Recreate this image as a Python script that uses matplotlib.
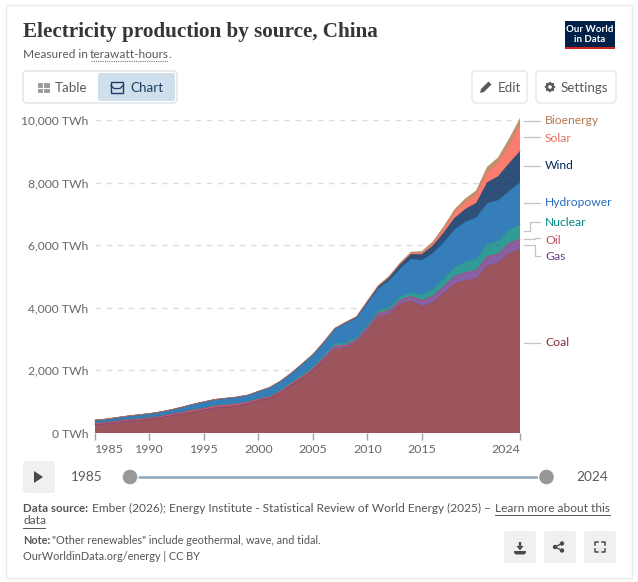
import matplotlib
matplotlib.use("Agg")
import matplotlib.pyplot as plt
import math
from matplotlib.patches import FancyBboxPatch, Rectangle, Circle, Polygon

years = list(range(1985, 2025))
coal = [265,295,335,375,405,440,490,550,610,670,730,800,830,865,925,1040,1110,1290,1530,1750,2000,2340,2690,2720,2900,3270,3720,3790,4110,4220,4050,4170,4460,4770,4870,4930,5340,5430,5740,5860]
gas = [4,4,4,4,4,4,4,4,4,4,4,5,5,5,5,6,6,6,6,6,12,25,65,65,70,80,100,110,120,130,170,190,200,220,240,250,280,270,300,320]
oil = [50,50,55,55,55,50,55,60,60,65,60,65,65,60,60,45,40,40,45,45,45,45,30,25,20,15,15,15,12,12,12,12,12,12,12,12,15,15,18,20]
nuclear = [0,0,0,0,0,0,0,0,2,14,13,14,14,14,15,17,17,25,43,50,53,55,62,68,70,74,86,97,112,133,171,213,248,295,349,366,408,418,435,451]
hydro = [92,95,100,109,118,127,125,131,151,167,190,188,196,204,203,222,277,288,284,354,397,436,485,637,616,711,688,862,892,1060,1115,1153,1165,1199,1272,1322,1300,1300,1228,1354]
wind = [0,0,0,0,0,0,0,0,0,0,0,0,0,0,0,1,1,1,1,1,2,4,6,15,28,49,74,96,141,156,186,237,305,366,406,467,656,763,886,992]
solar = [0,0,0,0,0,0,0,0,0,0,0,0,0,0,0,0,0,0,0,0,0,0,0,0,0,1,3,6,9,24,40,67,118,177,224,261,327,427,584,834]
bio = [0,0,0,0,0,0,0,0,0,0,1,1,1,1,1,2,2,2,3,4,5,6,8,12,18,25,30,34,38,45,53,65,80,94,113,135,170,170,196,208]
series = [coal, gas, oil, nuclear, hydro, wind, solar, bio]
colors = ["#883039", "#6d3e91", "#c9304f", "#058580", "#0a62ab", "#00295b", "#f9604f", "#b07a4c"]
labels = ["Coal", "Gas", "Oil", "Nuclear", "Hydropower", "Wind", "Solar", "Bioenergy"]
label_colors = ["#883039", "#6d3e91", "#c15065", "#00847e", "#286bbb", "#00295b", "#e56e5a", "#b5764c"]
yticks = [0, 2000, 4000, 6000, 8000, 10000]
ytick_labels = ["0 TWh", "2,000 TWh", "4,000 TWh", "6,000 TWh", "8,000 TWh", "10,000 TWh"]
xticks = [1985, 1990, 1995, 2000, 2005, 2010, 2015, 2024]

W, H = 638, 582
plt.rcParams["font.family"] = ["Lato", "DejaVu Sans"]
fig = plt.figure(figsize=(W/100, H/100), dpi=100, facecolor="white")

# pixel overlay
ui = fig.add_axes([0, 0, 1, 1], zorder=0)
ui.set_xlim(0, W); ui.set_ylim(H, 0); ui.axis("off")

GR = "#5b5b5b"
def box(x, y, w, h, fc="white", ec="#e4e7ea", r=4, lw=1, z=1):
    ui.add_patch(FancyBboxPatch((x+r, y+r), w-2*r, h-2*r, boxstyle=f"round,pad={r},rounding_size={r}", fc=fc, ec=ec, lw=lw, zorder=z))
def T(x, y, s, size=9, color=GR, ha="left", va="center", **k):
    return ui.text(x, y, s, fontsize=size, color=color, ha=ha, va=va, **k)

ui.add_patch(Rectangle((6, 4.5), 626, 573.5, fc="white", ec="#eaeaea", lw=1, zorder=0))

# header
T(23, 32, "Electricity production by source, China", size=15.2, color="#363636", family="Liberation Serif", fontweight="bold")
T(23, 54, "Measured in ", size=8.6)
T(90, 54, "terawatt-hours", size=8.6)
T(168.5, 54, ".", size=8.6)
ui.plot([91, 168], [60.5, 60.5], color="#777", lw=0.8, ls=(0, (1, 1)))
# logo
ui.add_patch(Rectangle((565, 21), 50, 28, fc="#002147", ec="none", zorder=2))
ui.add_patch(Rectangle((565, 47), 50, 2, fc="#ce261e", ec="none", zorder=3))
T(590, 29, "Our World", size=7, color="white", ha="center", fontweight="bold", zorder=4)
T(590, 39.5, "in Data", size=7, color="white", ha="center", fontweight="bold", zorder=4)

# table/chart toggle
box(23, 71, 154, 32, ec="#dfe3e7")
box(98, 73, 77, 28, fc="#cfdfeb", ec="none", r=2, z=2)
ui.add_patch(Rectangle((37.5, 83), 11, 9, fc="#9a9a9a", ec="#8a8a8a", lw=0.5, zorder=3))
ui.plot([37.5, 48.5], [87.5, 87.5], color="white", lw=0.8, zorder=4)
ui.plot([43, 43], [83, 92], color="white", lw=0.8, zorder=4)
T(55, 87.5, "Table", size=9.6)
ui.add_patch(Rectangle((111, 82), 12, 11, fc="none", ec="#1d3d63", lw=1.0, zorder=3))
ui.plot([111, 114, 120, 123], [85.5, 88.5, 88.5, 85.5], color="#1d3d63", lw=0.9, zorder=4)
T(130, 87.5, "Chart", size=9.6, color="#1d3d63")

# edit / settings
box(472, 71, 55, 32)
ui.add_patch(Polygon([(480, 93), (481, 89), (488.5, 81.5), (491.5, 84.5), (484, 92)], fc=GR, ec="none", zorder=3))
T(498, 87.5, "Edit", size=9.6)
box(536, 71, 80, 32)
gear = []
for i in range(16):
    a = math.pi*2*i/16
    rr = 5.6 if i % 2 == 0 else 4.3
    gear.append((550+rr*math.cos(a), 87+rr*math.sin(a)))
ui.add_patch(Polygon(gear, fc=GR, ec="none", zorder=3))
ui.add_patch(Circle((550, 87), 1.8, fc="white", ec="none", zorder=4))
T(561, 87.5, "Settings", size=9.6)

# chart axes
L, R, TOP, BOT = 95, 520, 120, 433
ax = fig.add_axes([L/W, 1-BOT/H, (R-L)/W, (BOT-TOP)/H], zorder=1)
ax.patch.set_alpha(0)
ax.set_xlim(years[0], years[-1]); ax.set_ylim(0, 10000)
for s in ax.spines.values():
    s.set_visible(False)
ax.grid(False)
for v in yticks[1:]:
    ax.axhline(v, color="#dcdcdc", lw=1, ls=(0, (4, 4)), zorder=1)
polys = ax.stackplot(years, *series, colors=colors, alpha=0.82, linewidth=0, zorder=2)
for p in polys:
    p.set_clip_on(False)
top = [0]*len(years)
for vals, c in zip(series, colors):
    top = [a+b for a, b in zip(top, vals)]
    ax.plot(years, top, color=c, lw=0.5, alpha=0.7, zorder=3, clip_on=False)
ax.set_yticks(yticks)
ax.set_yticklabels(ytick_labels, fontsize=8.7, color="#666666")
ax.tick_params(axis="y", length=0, pad=5)
ax.set_xticks(xticks)
ax.set_xticklabels([str(x) for x in xticks], fontsize=8.9, color="#666666")
ax.tick_params(axis="x", length=5, width=1, color="#a1a1a1", pad=3)
xl = ax.get_xticklabels()
xl[0].set_ha("left"); xl[-1].set_ha("right")

# series labels with connectors
label_y = {"Bioenergy": 120.5, "Solar": 138, "Wind": 165.5, "Hydropower": 202.5, "Nuclear": 222, "Oil": 240, "Gas": 257, "Coal": 342.5}
paths = {
    "Bioenergy": ([524, 540], [120.5, 120.5]),
    "Solar": ([524, 540], [136.5, 136.5]),
    "Wind": ([524, 540], [165.5, 165.5]),
    "Hydropower": ([524, 540], [202.5, 202.5]),
    "Nuclear": ([524, 530, 530, 540], [231, 231, 221.5, 221.5]),
    "Oil": ([524, 535, 535, 540], [239, 239, 238, 238]),
    "Gas": ([524, 535, 535, 540], [245, 245, 256, 256]),
    "Coal": ([524, 540], [342.5, 342.5]),
}
for name, c in zip(labels, label_colors):
    T(545, label_y[name], name, size=8.7, color=c)
    ui.plot(*paths[name], color="#c4c4c4", lw=0.9, zorder=2)

# timeline
box(23, 461, 32, 32, fc="#f0f0f0", ec="none", r=3)
ui.add_patch(Polygon([(34, 471), (34, 483), (43, 477)], fc="#4a4a4a", ec="none", zorder=3))
T(71, 477, "1985", size=9.8)
T(576, 477, "2024", size=9.8)
ui.plot([130, 546], [477, 477], color="#8fa6bb", lw=1.8, zorder=2)
ui.add_patch(Circle((130, 477), 8, fc="#989898", ec="white", lw=1, zorder=3))
ui.add_patch(Circle((546.5, 477), 8, fc="#989898", ec="white", lw=1, zorder=3))

# footer
T(23, 508, "Data source:", size=8.3, color="#555", fontweight="bold")
T(92.5, 508, "Ember (2026); Energy Institute - Statistical Review of World Energy (2025) –", size=8.6, color="#555")
T(495, 508, "Learn more about this", size=8.6, color="#555")
ui.plot([495, 609.5], [514.5, 514.5], color="#555", lw=0.7)
T(23, 521, "data", size=8.6, color="#555")
ui.plot([23, 45], [527.5, 527.5], color="#555", lw=0.7)
T(23, 541, "Note:", size=7.8, color="#555", fontweight="bold")
T(52.5, 541, "\"Other renewables\" include geothermal, wave, and tidal.", size=7.85, color="#555")
T(23, 557, "OurWorldinData.org/energy | CC BY", size=7.85, color="#555")

# icon buttons
for x in (504, 544, 584):
    box(x, 531, 32, 32, fc="#f0f0f0", ec="none", r=3)
ui.add_patch(Polygon([(514, 551), (526, 551), (526, 553), (524, 554.5), (516, 554.5), (514, 553)], fc="#4a4a4a", ec="none", zorder=3))
ui.add_patch(Polygon([(518.8, 542), (521.2, 542), (521.2, 546), (523.5, 546), (520, 550.5), (516.5, 546), (518.8, 546)], fc="#4a4a4a", ec="none", zorder=3))
for cx, cy in ((555, 547), (562, 543.5), (562, 550.5)):
    ui.add_patch(Circle((cx, cy), 2.2, fc="#4a4a4a", ec="none", zorder=3))
ui.plot([562, 555, 562], [543.5, 547, 550.5], color="#4a4a4a", lw=1, zorder=3)
for sx in (0, 1):
    for sy in (0, 1):
        x0 = 595 + sx*10; y0 = 542 + sy*10
        dx = 3 if sx == 0 else -3; dy = 3 if sy == 0 else -3
        ui.plot([x0+dx, x0, x0], [y0, y0, y0+dy], color="#4a4a4a", lw=1.1, zorder=3)

fig.savefig("out.png", dpi=100)
